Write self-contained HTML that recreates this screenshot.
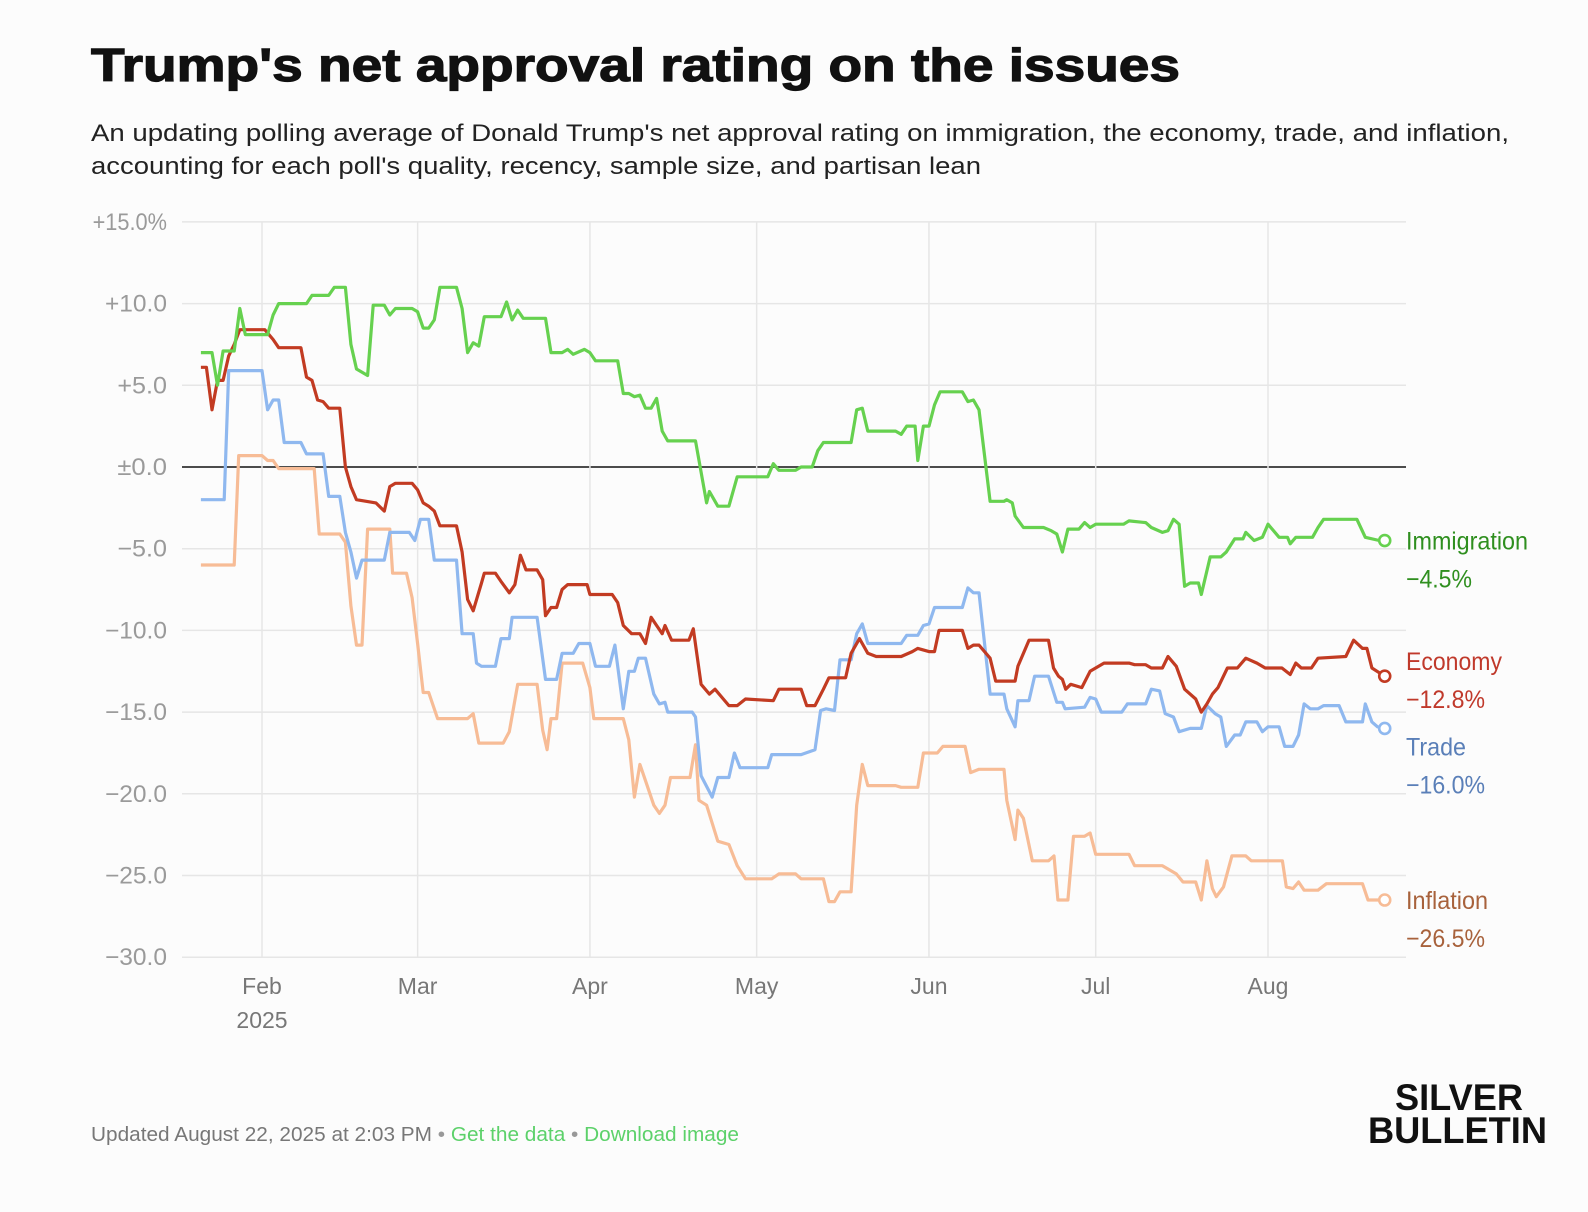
<!DOCTYPE html>
<html><head><meta charset="utf-8">
<style>
html,body{margin:0;padding:0;background:#fcfcfc;}
svg{display:block;font-family:"Liberation Sans",sans-serif;}
</style></head>
<body>
<svg id="chart" width="1588" height="1212" viewBox="0 0 1588 1212" xmlns="http://www.w3.org/2000/svg">
<rect width="1588" height="1212" fill="#fcfcfc"/>
<text x="91" y="81" font-size="46" font-weight="900" fill="#111" textLength="1089" lengthAdjust="spacingAndGlyphs" stroke="#111" stroke-width="1.2">Trump's net approval rating on the issues</text>
<text x="91" y="141" font-size="24" fill="#222" textLength="1418" lengthAdjust="spacingAndGlyphs">An updating polling average of Donald Trump's net approval rating on immigration, the economy, trade, and inflation,</text>
<text x="91" y="174" font-size="24" fill="#222" textLength="890" lengthAdjust="spacingAndGlyphs">accounting for each poll's quality, recency, sample size, and partisan lean</text>
<g id="grid"></g>
<g id="series"></g>
<g id="labels"></g>
<text x="91" y="1141" font-size="20" fill="#777" textLength="648" lengthAdjust="spacingAndGlyphs">Updated August 22, 2025 at 2:03 PM <tspan fill="#999">•</tspan> <tspan fill="#5cd16a">Get the data</tspan> <tspan fill="#999">•</tspan> <tspan fill="#5cd16a">Download image</tspan></text>
<text x="1395" y="1110" font-size="37" font-weight="900" fill="#111" textLength="128" lengthAdjust="spacingAndGlyphs">SILVER</text>
<text x="1368" y="1143" font-size="37" font-weight="900" fill="#111" textLength="179" lengthAdjust="spacingAndGlyphs">BULLETIN</text>
</svg>
<script>
const yTicks=[15,10,5,0,-5,-10,-15,-20,-25,-30];
const yTickLabels=["+15.0%","+10.0","+5.0","±0.0","−5.0","−10.0","−15.0","−20.0","−25.0","−30.0"];
const monthDays=[12,40,71,101,132,162,193];
const monthLabels=["Feb","Mar","Apr","May","Jun","Jul","Aug"];
const immigration=[[1,7.0],[3,7.0],[4,5.0],[5,7.1],[7,7.1],[8,9.7],[9,8.1],[13,8.1],[14,9.3],[15,10.0],[20,10.0],[21,10.5],[24,10.5],[25,11.0],[27,11.0],[28,7.5],[29,6.0],[31,5.6],[32,9.9],[34,9.9],[35,9.3],[36,9.7],[39,9.7],[40,9.5],[41,8.5],[42,8.5],[43,9.0],[44,11.0],[47,11.0],[48,9.7],[49,7.0],[50,7.6],[51,7.4],[52,9.2],[55,9.2],[56,10.1],[57,9.0],[58,9.6],[59,9.1],[63,9.1],[64,7.0],[66,7.0],[67,7.2],[68,6.9],[70,7.2],[71,7.0],[72,6.5],[76,6.5],[77,4.5],[78,4.5],[79,4.3],[80,4.4],[81,3.6],[82,3.6],[83,4.2],[84,2.2],[85,1.6],[90,1.6],[92,-2.2],[92.5,-1.5],[94,-2.4],[96,-2.4],[97.5,-0.6],[103,-0.6],[104,0.2],[105,-0.2],[108,-0.2],[109,0],[111,0],[112,1.0],[113,1.5],[118,1.5],[119,3.5],[120,3.6],[121,2.2],[126,2.2],[127,2.0],[128,2.5],[129.5,2.5],[130,0.4],[131,2.5],[132,2.5],[133,3.8],[134,4.6],[138,4.6],[139,4.0],[140,4.1],[141,3.5],[143,-2.1],[145.5,-2.1],[146,-2.0],[147,-2.2],[147.5,-3.0],[149,-3.7],[152.6,-3.7],[154,-3.9],[155,-4.1],[156,-5.2],[157,-3.8],[159,-3.8],[160,-3.4],[161,-3.7],[162,-3.5],[167,-3.5],[168,-3.3],[171,-3.4],[172,-3.7],[174,-4.0],[175,-3.9],[176,-3.2],[177,-3.5],[178,-7.3],[179,-7.1],[180.5,-7.1],[181,-7.8],[182.6,-5.5],[184.5,-5.5],[185.5,-5.2],[187,-4.4],[188.5,-4.4],[189,-4.0],[190.5,-4.5],[192,-4.3],[193,-3.5],[195,-4.3],[196.5,-4.3],[197,-4.7],[198,-4.3],[201,-4.3],[202,-3.7],[203,-3.2],[209,-3.2],[210.5,-4.3],[213,-4.5],[214,-4.5]];
const economy=[[1,6.1],[2,6.1],[3,3.5],[4,5.3],[5,5.3],[6,6.8],[7,7.5],[8,8.4],[12.5,8.4],[14,7.8],[15,7.3],[19,7.3],[20,5.5],[21,5.3],[22,4.1],[23,4.0],[24,3.6],[26,3.6],[27,0],[28,-1.2],[29,-2.0],[32.5,-2.2],[34,-2.7],[35,-1.2],[36,-1.0],[39,-1.0],[40,-1.4],[41,-2.2],[42,-2.4],[43,-2.7],[44,-3.6],[47,-3.6],[48,-5.2],[49,-8.1],[50,-8.8],[51.5,-7.1],[52,-6.5],[54,-6.5],[55,-7.0],[56.5,-7.7],[57.5,-7.2],[58.5,-5.4],[59.5,-6.3],[61.5,-6.3],[62.5,-6.9],[63,-9.1],[64,-8.6],[65,-8.6],[66,-7.5],[67,-7.2],[70.5,-7.2],[71,-7.8],[75,-7.8],[76,-8.3],[77,-9.7],[78.5,-10.2],[80,-10.2],[81,-10.8],[82,-9.2],[83,-9.7],[84,-10.2],[84.5,-9.7],[85.7,-10.6],[88.8,-10.6],[89.6,-9.9],[91,-13.3],[92.5,-13.9],[93.5,-13.6],[95,-14.2],[96,-14.6],[97.5,-14.6],[99,-14.2],[104,-14.3],[105,-13.6],[109,-13.6],[110,-14.6],[111.5,-14.6],[113,-13.6],[114,-12.9],[117,-12.9],[118,-11.4],[119.5,-10.5],[121,-11.4],[122.5,-11.6],[127,-11.6],[129,-11.3],[130,-11.1],[132,-11.3],[133,-11.3],[133.8,-10.0],[138,-10.0],[139,-11.1],[140,-10.9],[141,-10.9],[143,-11.7],[144,-13.1],[147.5,-13.1],[148,-12.2],[150,-10.6],[153.5,-10.6],[154.4,-12.3],[155.3,-12.8],[156,-13.0],[156.6,-13.6],[157.5,-13.3],[159.5,-13.5],[161,-12.5],[163.5,-12.0],[168,-12.0],[169,-12.1],[171,-12.1],[172,-12.3],[174,-12.3],[175,-11.6],[176.5,-12.2],[178,-13.6],[180,-14.2],[181,-15.0],[182,-14.5],[183,-13.9],[184,-13.5],[185.7,-12.3],[187.5,-12.3],[189,-11.7],[191,-12.0],[192.5,-12.3],[195.5,-12.3],[197,-12.7],[198,-12.0],[199,-12.3],[200.8,-12.3],[202,-11.7],[207,-11.6],[208.4,-10.6],[210,-11.1],[210.8,-11.1],[211.7,-12.3],[214,-12.8]];
const trade=[[1,-2.0],[5.2,-2.0],[6,5.9],[12,5.9],[13,3.5],[14,4.1],[15,4.1],[16,1.5],[19,1.5],[20,0.8],[23,0.8],[24,-1.8],[26,-1.8],[27,-4.0],[28,-5.2],[29,-6.8],[30,-5.7],[34,-5.7],[35,-4.0],[38.5,-4.0],[39.5,-4.5],[40.5,-3.2],[42,-3.2],[43,-5.7],[47,-5.7],[48,-10.2],[50,-10.2],[50.6,-12.0],[51.5,-12.2],[54,-12.2],[55,-10.5],[56.5,-10.5],[57,-9.2],[61.5,-9.2],[63,-13.0],[65,-13.0],[66,-11.4],[68,-11.4],[69,-10.8],[71,-10.8],[72,-12.2],[74.5,-12.2],[75.5,-10.9],[77,-14.8],[78,-12.5],[79,-12.5],[79.7,-11.7],[81,-11.7],[82.5,-13.9],[83.5,-14.5],[84.5,-14.4],[85,-15.0],[89.4,-15.0],[90,-15.3],[91,-18.9],[93,-20.2],[94,-19.0],[96,-19.0],[97,-17.5],[98,-18.4],[103,-18.4],[103.7,-17.6],[109,-17.6],[111.5,-17.3],[112.5,-14.9],[113.5,-14.8],[115,-14.9],[116,-11.8],[118,-11.8],[119,-10.2],[120,-9.6],[121,-10.8],[127,-10.8],[128,-10.3],[130,-10.3],[131,-9.7],[132,-9.6],[133,-8.6],[138,-8.6],[139,-7.4],[140,-7.7],[141,-7.7],[143,-13.9],[145.5,-13.9],[146,-14.8],[147.5,-15.9],[148,-14.3],[150,-14.3],[151,-12.8],[153.5,-12.8],[155,-14.4],[156,-14.4],[156.5,-14.8],[160,-14.7],[161,-14.1],[162,-14.2],[163,-15.0],[166.7,-15.0],[167.7,-14.5],[171,-14.5],[172,-13.6],[173.5,-13.7],[174.5,-15.1],[176,-15.3],[177,-16.2],[179,-16.0],[181,-16.0],[182,-14.6],[183.5,-15.1],[184.5,-15.3],[185.5,-17.1],[187,-16.4],[188,-16.4],[189,-15.6],[191,-15.6],[192,-16.2],[193,-15.9],[195,-15.9],[196,-17.1],[197.5,-17.1],[198.5,-16.4],[199.5,-14.5],[200.6,-14.8],[202,-14.8],[203,-14.6],[205.8,-14.6],[207,-15.6],[210,-15.6],[210.5,-14.5],[211.7,-15.6],[212.7,-15.9],[214,-16.0]];
const inflation=[[1,-6.0],[7,-6.0],[7.8,0.7],[12,0.7],[13,0.4],[14,0.4],[15,-0.1],[21.4,-0.1],[22.3,-4.1],[26,-4.1],[27,-4.6],[28,-8.5],[29,-10.9],[30,-10.9],[31,-3.8],[35,-3.8],[35.5,-6.5],[38,-6.5],[39,-8.0],[40,-10.8],[41,-13.8],[42,-13.8],[43.6,-15.4],[49,-15.4],[50,-15.1],[51,-16.9],[55.4,-16.9],[56.5,-16.2],[58,-13.3],[61.5,-13.3],[62.5,-16.1],[63.3,-17.3],[64,-15.4],[65,-15.4],[66,-12.0],[69.7,-12.0],[71,-13.5],[71.7,-15.4],[77,-15.4],[78,-16.7],[79,-20.2],[80,-18.2],[81,-19.2],[82.5,-20.7],[83.5,-21.2],[84.5,-20.7],[85.5,-19.0],[89,-19.0],[90,-17.0],[90.6,-20.4],[92,-20.7],[93,-21.8],[94,-22.9],[96,-23.1],[97.5,-24.4],[99,-25.2],[103.7,-25.2],[105,-24.9],[108,-24.9],[109,-25.2],[113,-25.2],[114,-26.6],[115,-26.6],[116,-26.0],[118,-26.0],[119,-20.7],[120,-18.2],[121,-19.5],[126,-19.5],[127,-19.6],[130,-19.6],[131,-17.5],[133.5,-17.5],[134.5,-17.1],[138.5,-17.1],[139.5,-18.7],[141,-18.5],[145.5,-18.5],[146,-20.4],[147.5,-22.8],[148,-21.0],[149,-21.5],[150.6,-24.1],[153.5,-24.1],[154.5,-23.8],[155.2,-26.5],[157,-26.5],[158,-22.6],[160,-22.6],[161,-22.4],[162,-23.7],[168,-23.7],[169,-24.4],[174,-24.4],[175,-24.6],[176.5,-24.9],[177.7,-25.4],[180,-25.4],[181,-26.5],[182,-24.1],[183,-25.8],[183.7,-26.3],[185,-25.7],[186.5,-23.8],[189,-23.8],[190,-24.1],[195.6,-24.1],[196.3,-25.7],[197.5,-25.8],[198.5,-25.4],[199.5,-25.9],[202,-25.9],[203.5,-25.5],[210,-25.5],[211,-26.5],[214,-26.5]];
const seriesNames=["Immigration","Economy","Trade","Inflation"];
const finalLabels=["−4.5%","−12.8%","−16.0%","−26.5%"];

const NS="http://www.w3.org/2000/svg";
const X=d=>262+(d-12)*5.558;
const Y=v=>467-v*16.34;
const PL=182, PR=1406;
function mk(tag,attrs,parent){const e=document.createElementNS(NS,tag);for(const k in attrs)e.setAttribute(k,attrs[k]);parent.appendChild(e);return e;}
const grid=document.getElementById('grid'), ser=document.getElementById('series'), lab=document.getElementById('labels');

yTicks.forEach((v,i)=>{
  const l=mk('line',{x1:PL,x2:PR,y1:Y(v),y2:Y(v),stroke:v===0?'#111':'#e6e6e6','stroke-width':v===0?1.6:1.5},grid);
  
  
  const t=mk('text',{x:167,y:Y(v)+8,'text-anchor':'end','font-size':24,fill:'#9a9a9a'},grid);
  
  
  t.textContent=yTickLabels[i];
  t.setAttribute('textLength', String(yTickLabels[i].length*12.4));
  t.setAttribute('lengthAdjust','spacingAndGlyphs');
});
monthDays.forEach((d,i)=>{
  const l=mk('line',{x1:X(d),x2:X(d),y1:Y(15),y2:Y(-30),stroke:'#e6e6e6','stroke-width':1.5},grid);
  
  
  const t=mk('text',{x:X(d),y:994,'text-anchor':'middle','font-size':23,fill:'#777'},grid);
  
  
  t.textContent=monthLabels[i];
});
const yr=mk('text',{x:X(12),y:1028,'text-anchor':'middle','font-size':23,fill:'#777'},grid);


yr.textContent='2025';

const data=[inflation,trade,economy,immigration];
const colors=["#f7bc96","#8fb8ef","#c23b22","#66d14f"];
const names=["inflation-line","trade-line","economy-line","immigration-line"];
data.forEach((s,i)=>{
  const p=mk('path',{d:s.map((pt,j)=>(j?'L':'M')+X(pt[0]).toFixed(1)+','+Y(pt[1]).toFixed(1)).join(''),fill:'none',stroke:colors[i],'stroke-width':3.2,'stroke-linejoin':'round'},ser);
  
  
  const last=s[s.length-1];
  const c=mk('circle',{cx:X(last[0]),cy:Y(last[1]),r:5.5,fill:'#fff',stroke:colors[i],'stroke-width':2.6},ser);
  
  
});

const lblSeries=[immigration,economy,trade,inflation];
const lblColors=["#2f8f1f","#c0392b","#5a7fb8","#a8623c"];
const lblOffsets=[0,-15,18,0];
const nameW=[122,96,60,82];
const valW=[66,79,79,79];
lblSeries.forEach((s,i)=>{
  const last=s[s.length-1];
  const yy=Y(last[1])+lblOffsets[i];
  const a=mk('text',{x:1406,y:yy+9,'font-size':25,fill:lblColors[i],textLength:nameW[i],lengthAdjust:'spacingAndGlyphs'},lab);
  
  
  a.textContent=seriesNames[i];
  const b=mk('text',{x:1406,y:yy+47,'font-size':25,fill:lblColors[i],textLength:valW[i],lengthAdjust:'spacingAndGlyphs'},lab);
  
  
  b.textContent=finalLabels[i];
});
</script>
</body></html>
